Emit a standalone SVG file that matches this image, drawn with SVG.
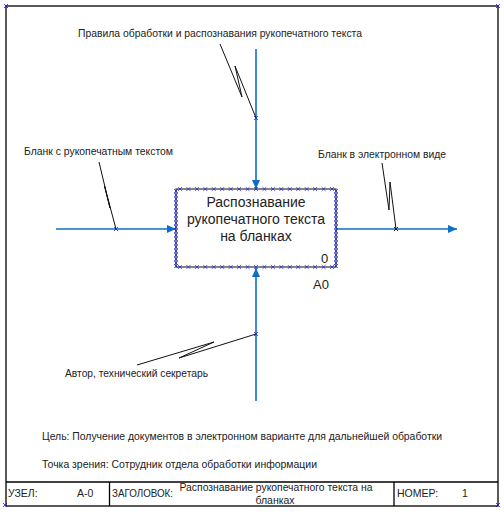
<svg xmlns="http://www.w3.org/2000/svg" width="504" height="515" viewBox="0 0 504 515">
<style>
.lbl{font-family:"Liberation Sans",Arial,sans-serif;font-size:10.5px;fill:#222}
.box{font-family:"Liberation Sans",Arial,sans-serif;font-size:14px;fill:#222}
.flow{fill:none;stroke:#0b70c6;stroke-width:1.6}
.sq{fill:none;stroke:#111;stroke-width:1}
.frame{fill:none;stroke:#000;stroke-width:1.3}
.mk{fill:none;stroke:none}
</style>
<defs>
<marker id="arr" markerUnits="userSpaceOnUse" markerWidth="10" markerHeight="8" refX="9" refY="4" orient="auto" overflow="visible">
<path d="M0,0 L9,4 L0,8 Z" fill="#0b70c6"/>
</marker>
<marker id="xb" markerUnits="userSpaceOnUse" markerWidth="6" markerHeight="6" refX="3" refY="3" overflow="visible">
<path d="M1,1 L5,5 M5,1 L1,5" stroke="#1a1ae6" stroke-width="0.8" fill="none"/>
</marker>
<marker id="xs" markerUnits="userSpaceOnUse" markerWidth="6" markerHeight="6" refX="3" refY="3" overflow="visible">
<path d="M1.1,1.1 L4.9,4.9 M4.9,1.1 L1.1,4.9" stroke="#2424ee" stroke-width="0.8" fill="none"/>
</marker>
<marker id="xk" markerUnits="userSpaceOnUse" markerWidth="6" markerHeight="6" refX="3" refY="3" overflow="visible">
<path d="M1,1 L5,5 M5,1 L1,5" stroke="#111" stroke-width="0.9" fill="none"/>
</marker>
</defs>

<g id="frame">
<rect class="frame" x="6" y="6" width="492" height="500"/>
<line class="frame" x1="6" y1="482" x2="498" y2="482"/>
<line class="frame" x1="109.5" y1="482" x2="109.5" y2="506"/>
<line class="frame" x1="394" y1="482" x2="394" y2="506"/>
<path class="mk" d="M6,6 L498,6 L498,505 L5,505" marker-start="url(#xb)" marker-mid="url(#xb)" marker-end="url(#xb)"/>
<text class="lbl" x="42" y="440" textLength="400" lengthAdjust="spacingAndGlyphs">Цель: Получение документов в электронном варианте для дальнейшей обработки</text>
<text class="lbl" x="42" y="468" textLength="275" lengthAdjust="spacingAndGlyphs">Точка зрения: Сотрудник отдела обработки информации</text>
<text class="lbl" x="8" y="497">УЗЕЛ:</text>
<text class="lbl" x="77" y="497">А-0</text>
<text class="lbl" x="112" y="497" textLength="61" lengthAdjust="spacingAndGlyphs">ЗАГОЛОВОК:</text>
<text class="lbl" x="276" y="491" text-anchor="middle" textLength="193" lengthAdjust="spacingAndGlyphs">Распознавание рукопечатного текста на</text>
<text class="lbl" x="275" y="504" text-anchor="middle">бланках</text>
<text class="lbl" x="397" y="497">НОМЕР:</text>
<text class="lbl" x="462" y="497">1</text>
</g>

<g id="connectors">
<line class="flow" x1="256" y1="49" x2="256" y2="189" marker-end="url(#arr)"/>
<line class="flow" x1="56" y1="229" x2="176" y2="229" marker-end="url(#arr)"/>
<line class="flow" x1="336" y1="229" x2="457" y2="229" marker-end="url(#arr)"/>
<line class="flow" x1="256" y1="401" x2="256" y2="268" marker-end="url(#arr)"/>
<polyline class="sq" points="220,44 242,97 235,66 256,118"/>
<polyline class="sq" points="99,162 110,208 104.5,186 116,229"/>
<polyline class="sq" points="382,163 389,210 390,182 396,229"/>
<polyline class="sq" points="137,365 214,342 179,358 256,334"/>
<path class="mk" d="M256,118 L256,118.01" marker-start="url(#xb)"/>
<path class="mk" d="M116,229 L116.01,229" marker-start="url(#xb)"/>
<path class="mk" d="M256,334 L256,334.01" marker-start="url(#xb)"/>
<path class="mk" d="M396,229 L396.01,229" marker-start="url(#xk)"/>
<text class="lbl" x="78" y="37" textLength="284" lengthAdjust="spacingAndGlyphs">Правила обработки и распознавания рукопечатного текста</text>
<text class="lbl" x="24" y="155" textLength="149" lengthAdjust="spacingAndGlyphs">Бланк с рукопечатным текстом</text>
<text class="lbl" x="318" y="158" textLength="128" lengthAdjust="spacingAndGlyphs">Бланк в электронном виде</text>
<text class="lbl" x="65" y="377" textLength="143" lengthAdjust="spacingAndGlyphs">Автор, технический секретарь</text>
</g>

<g id="A0">
<rect x="176" y="189" width="160" height="78" fill="#fff" stroke="#333" stroke-width="1.2"/>
<path class="mk" d="M180,189 H188.4 H196.9 H205.3 H213.8 H222.2 H230.7 H239.1 H247.6 H256 H264.4 H272.9 H281.3 H289.8 H298.2 H306.7 H315.1 H323.6 H332" marker-start="url(#xs)" marker-mid="url(#xs)" marker-end="url(#xs)"/>
<path class="mk" d="M180,267 H188.4 H196.9 H205.3 H213.8 H222.2 H230.7 H239.1 H247.6 H256 H264.4 H272.9 H281.3 H289.8 H298.2 H306.7 H315.1 H323.6 H332" marker-start="url(#xs)" marker-mid="url(#xs)" marker-end="url(#xs)"/>
<path class="mk" d="M176,191 V195 V199 V203 V207 V211 V215 V219 V223 V227 V231 V235 V239 V243 V247 V251 V255 V259 V263 V266" marker-start="url(#xs)" marker-mid="url(#xs)" marker-end="url(#xs)"/>
<path class="mk" d="M336,191 V195 V199 V203 V207 V211 V215 V219 V223 V227 V231 V235 V239 V243 V247 V251 V255 V259 V263 V266" marker-start="url(#xs)" marker-mid="url(#xs)" marker-end="url(#xs)"/>
<text class="box" x="256" y="207" text-anchor="middle">Распознавание</text>
<text class="box" x="256" y="224" text-anchor="middle">рукопечатного текста</text>
<text class="box" x="256" y="241" text-anchor="middle">на бланках</text>
<text class="box" x="321" y="263" style="font-size:13px">0</text>
<text class="box" x="313" y="289" style="font-size:13px">A0</text>
</g>
</svg>
